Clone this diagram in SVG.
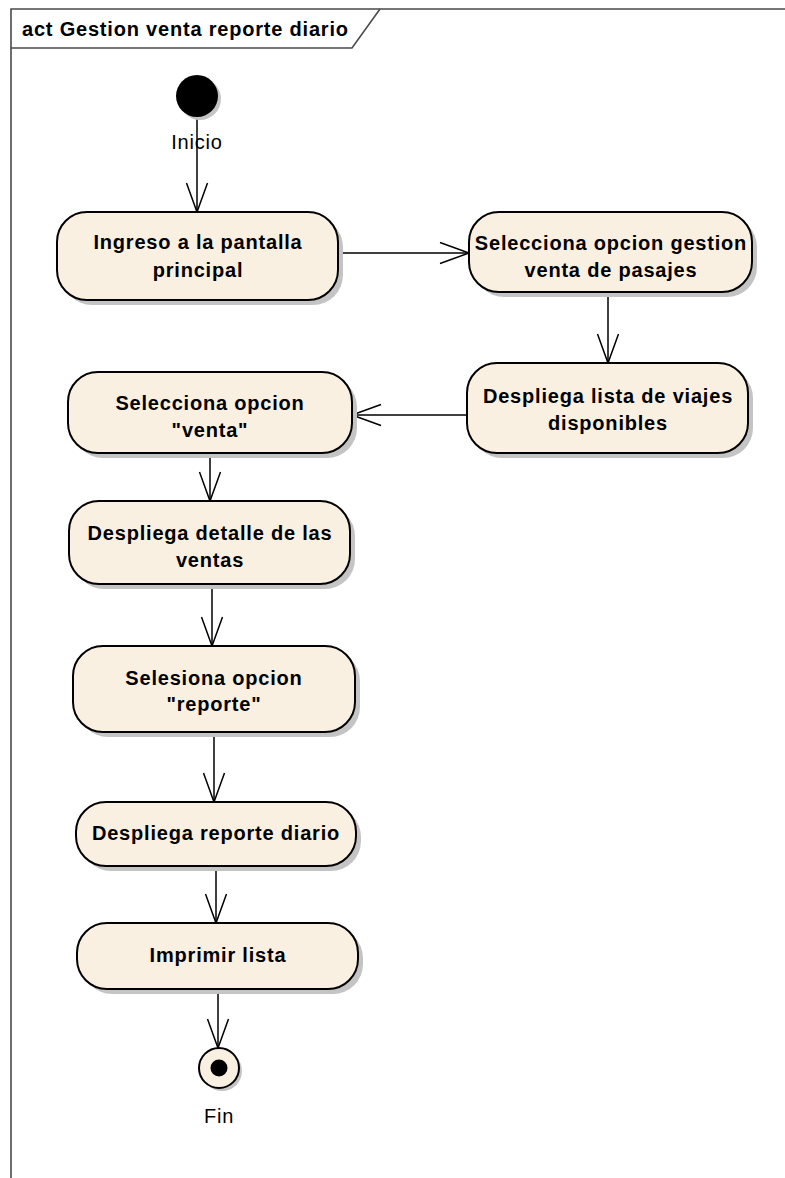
<svg xmlns="http://www.w3.org/2000/svg" width="785" height="1178" viewBox="0 0 785 1178">
<style>
  .frame { fill: none; stroke: #4a4a4a; stroke-width: 1.6; }
  .title { font-family: "Liberation Sans", Arial, sans-serif; font-size: 20px; font-weight: bold; letter-spacing: 0.8px; fill: #000; }
  .node { fill: #FAF0E1; stroke: #000; stroke-width: 2; }
  .shadow { fill: #c4c4c4; stroke: none; }
  .label { font-family: "Liberation Sans", Arial, sans-serif; font-size: 20px; font-weight: bold; letter-spacing: 0.8px; fill: #000; text-anchor: middle; }
  .plain { font-family: "Liberation Sans", Arial, sans-serif; font-size: 20px; letter-spacing: 0.8px; fill: #000; text-anchor: middle; }
  .edge { fill: none; stroke: #000; stroke-width: 1.5; marker-end: url(#open); }
</style>
<defs>
  <marker id="open" markerUnits="userSpaceOnUse" viewBox="-31 -12 33 24" refX="0" refY="0" markerWidth="33" markerHeight="24" orient="auto" overflow="visible">
    <path d="M -29 -10.5 L 0 0 L -29 10.5" fill="none" stroke="#000" stroke-width="1.5"/>
  </marker>
</defs>
<rect width="785" height="1178" fill="#fff"/>
<g id="frame">
  <path class="frame" d="M 11 1178 L 11 9 L 785 9"/>
  <path class="frame" d="M 11 48 L 352 48 L 380 9"/>
  <text class="title" x="22" y="36">act Gestion venta reporte diario</text>
</g>
<g id="connectors">
  <path class="edge" d="M 197 117 L 197 212"/>
  <path class="edge" d="M 338 253 L 469 253"/>
  <path class="edge" d="M 608 292 L 608 363"/>
  <path class="edge" d="M 467 415 L 352 415"/>
  <path class="edge" d="M 210 453 L 210 501"/>
  <path class="edge" d="M 212 584 L 212 646"/>
  <path class="edge" d="M 214 732 L 214 802"/>
  <path class="edge" d="M 216 866 L 216 923"/>
  <path class="edge" d="M 218 989 L 218 1048"/>
</g>
<g id="inicio">
  <circle class="shadow" cx="200" cy="99" r="21"/>
  <circle cx="197" cy="96" r="21" fill="#000"/>
  <text class="plain" x="197" y="149">Inicio</text>
</g>
<g id="n1">
  <rect class="shadow" x="62" y="217" width="281" height="88" rx="30"/>
  <rect class="node" x="57" y="212" width="281" height="88" rx="30"/>
  <text class="label" x="198" y="249">Ingreso a la pantalla</text>
  <text class="label" x="198" y="277">principal</text>
</g>
<g id="n2">
  <rect class="shadow" x="474" y="217" width="283" height="80" rx="30"/>
  <rect class="node" x="469" y="212" width="283" height="80" rx="30"/>
  <text class="label" x="611" y="250">Selecciona opcion gestion</text>
  <text class="label" x="611" y="277">venta de pasajes</text>
</g>
<g id="n3">
  <rect class="shadow" x="472" y="368" width="281" height="90" rx="30"/>
  <rect class="node" x="467" y="363" width="281" height="90" rx="30"/>
  <text class="label" x="608" y="403">Despliega lista de viajes</text>
  <text class="label" x="608" y="430">disponibles</text>
</g>
<g id="n4">
  <rect class="shadow" x="73" y="377" width="284" height="81" rx="30"/>
  <rect class="node" x="68" y="372" width="284" height="81" rx="30"/>
  <text class="label" x="210" y="410">Selecciona opcion</text>
  <text class="label" x="210" y="437">"venta"</text>
</g>
<g id="n5">
  <rect class="shadow" x="74" y="506" width="281" height="83" rx="30"/>
  <rect class="node" x="69" y="501" width="281" height="83" rx="30"/>
  <text class="label" x="210" y="540">Despliega detalle de las</text>
  <text class="label" x="210" y="567">ventas</text>
</g>
<g id="n6">
  <rect class="shadow" x="78" y="651" width="282" height="86" rx="30"/>
  <rect class="node" x="73" y="646" width="282" height="86" rx="30"/>
  <text class="label" x="214" y="685">Selesiona opcion</text>
  <text class="label" x="214" y="711">"reporte"</text>
</g>
<g id="n7">
  <rect class="shadow" x="81" y="807" width="280" height="64" rx="30"/>
  <rect class="node" x="76" y="802" width="280" height="64" rx="30"/>
  <text class="label" x="216" y="840">Despliega reporte diario</text>
</g>
<g id="n8">
  <rect class="shadow" x="82" y="928" width="281" height="66" rx="30"/>
  <rect class="node" x="77" y="923" width="281" height="66" rx="30"/>
  <text class="label" x="218" y="962">Imprimir lista</text>
</g>
<g id="fin">
  <circle class="shadow" cx="222" cy="1071" r="20"/>
  <circle cx="219" cy="1068" r="20" fill="#FAF0E1" stroke="#000" stroke-width="2"/>
  <circle cx="219" cy="1068" r="8.5" fill="#000"/>
  <text class="plain" x="219" y="1123">Fin</text>
</g>
</svg>
